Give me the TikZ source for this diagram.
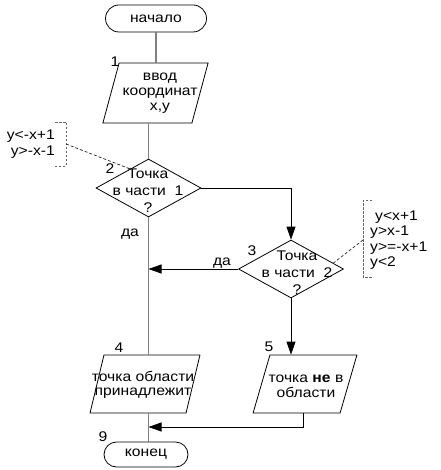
\documentclass[tikz,border=0pt]{standalone}
\usepackage{fontspec}
\setmainfont{Liberation Sans}[FakeStretch=1.12]
\usepackage{tikz}
\usetikzlibrary{arrows.meta,shapes.misc,shapes.geometric,calc}
\newcommand\fcfont{\fontsize{14}{15}\selectfont}
\tikzset{
  fc terminal/.style={
    rounded rectangle,
    minimum height=27pt,
    minimum width=105pt,
    draw=black,
    line width=0.8pt,
    font=\fcfont,
    inner sep=2pt,
  },
  fc data/.style={
    rectangle,
    xslant=0.27,
    minimum height=58pt,
    minimum width=89pt,
    draw=black,
    line width=0.8pt,
    inner sep=0pt,
  },
  fc decision/.style={
    diamond,
    minimum height=58pt,
    minimum width=105pt,
    draw=black,
    line width=0.8pt,
    inner sep=0pt,
  },
  fc text/.style={align=center, inner sep=0pt, font=\fcfont},
  fc num/.style={inner sep=0pt, font=\fcfont},
  fc note/.style={inner sep=0pt, font=\fontsize{14}{15.5}\selectfont},
  fc bracket/.style={black!60, line width=0.7pt, dash pattern=on 2.5pt off 1.5pt},
  fc note line/.style={black!85, line width=0.7pt, dash pattern=on 3pt off 2pt},
  fc line/.style={black!50, line width=1.3pt},
  fc arrow/.style={-{Triangle[length=13pt,width=9pt]}, line width=0.8pt},
}
\begin{document}
\begin{tikzpicture}[x=1pt,y=-1pt]
  \useasboundingbox (0,0) rectangle (440,470);

  \node[fc terminal] (start) at (156,18.5) {начало};
  \node[fc data, minimum height=60pt] (in) at (155.5,93) {};
  \node[fc text] (in text) at (160,93) {ввод\\координат\\x,y};
  \node[fc num] (n1) at (115,62) {1};

  \node[fc decision] (d1) at (148.5,188) {};
  \node[fc text, font=\fontsize{14}{17}\selectfont] (d1 text) at (148,191) {Точка\\в части~~1\\?};
  \node[fc num] (n2) at (110,169) {2};

  \node[fc decision] (d2) at (291,269) {};
  \node[fc text, font=\fontsize{14}{17}\selectfont] (d2 text) at (297,273) {Точка\\в части~~2\\?};
  \node[fc num] (n3) at (252,251) {3};

  \node[fc data, minimum width=96pt, xslant=-0.03] (yes) at (145,384) {};
  \node[fc text, font=\fontsize{14}{14}\selectfont] (yes text) at (143,385) {точка области\\принадлежит};
  \node[fc num] (n4) at (119,348) {4};

  \node[fc data, minimum width=87pt, xslant=0.02] (no) at (305,384) {};
  \node[fc text] (no text) at (306,386) {точка \textbf{не} в\\области};
  \node[fc num] (n5) at (269,347) {5};

  \node[fc terminal, minimum width=88pt, minimum height=25pt] (end) at (146,454.5) {конец};
  \node[fc num] (n9) at (103,437) {9};

  \node[fc text] (yes1) at (130,234) {да};
  \node[fc text] (yes2) at (222,263) {да};
  \path (d1.south |- 0,427) coordinate (join);

  \node[fc note, anchor=east, align=right] (c1) at (55,144) {y<-x+1\\y>-x-1};
  \node[fc note, anchor=west, align=left] (c2) at (370,240) {\hspace{5pt}y<x+1\\y>x-1\\y>=-x+1\\y<2};

  \draw[fc line] (start.south) -- (start.south |- in.north);
  \draw[fc line] (d1.north |- in.south) -- (d1.north);
  \draw[fc arrow] (d1.east) -| (d2.north);
  \draw[fc line] (d1.south) -- (d1.south |- yes.north);
  \draw[fc arrow] (d2.west) -- (d2.west -| d1.south);
  \draw[fc arrow] (d2.south) -- (d2.south |- no.north);
  \draw[fc arrow] ([xshift=6.5pt]no.south) |- (join);
  \draw[fc line] (join |- yes.south) -- (join |- end.north);

  \draw[fc bracket] ($(c1.east)+(0,-22)$) -- ++(11,0) -- ++(0,44) -- ++(-11,0);
  \draw[fc note line] ($(c1.east)+(11,0)$) -- ($(d1.west)!0.65!(d1.north)$);
  \draw[fc bracket] ($(c2.west)+(2,-40)$) -- ++(-9,0) -- ++(0,77) -- ++(9,0);
  \draw[fc note line] ($(c2.west)+(-7,0)$) -- ($(d2.north)!0.8!(d2.east)$);
\end{tikzpicture}
\end{document}
